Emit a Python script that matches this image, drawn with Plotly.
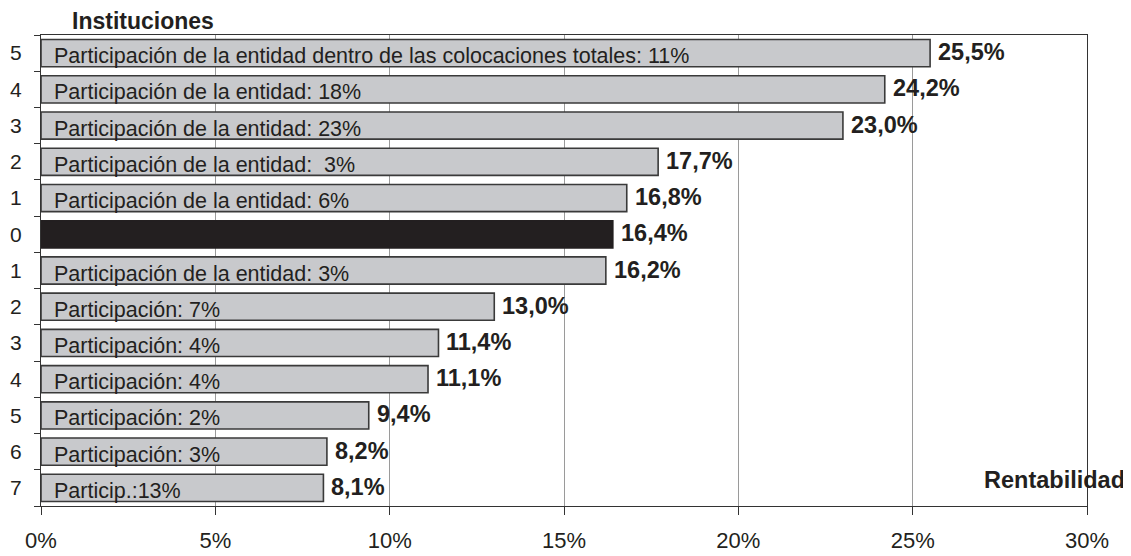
import plotly.graph_objects as go

# Data
inst_labels = ["5", "4", "3", "2", "1", "0", "1", "2", "3", "4", "5", "6", "7"]
rentabilidad = [25.5, 24.2, 23.0, 17.7, 16.8, 16.4, 16.2, 13.0, 11.4, 11.1, 9.4, 8.2, 8.1]
participacion_text = [
    "Participación de la entidad dentro de las colocaciones totales: 11%",
    "Participación de la entidad: 18%",
    "Participación de la entidad: 23%",
    "Participación de la entidad:  3%",
    "Participación de la entidad: 6%",
    "",
    "Participación de la entidad: 3%",
    "Participación: 7%",
    "Participación: 4%",
    "Participación: 4%",
    "Participación: 2%",
    "Participación: 3%",
    "Particip.:13%",
]
highlight_index = 5
x_ticks = [0, 5, 10, 15, 20, 25, 30]

FONT = "Arial, Liberation Sans, sans-serif"
TXT = "#231f20"
positions = list(range(len(rentabilidad)))

fill = ["#231f20" if i == highlight_index else "#c8c9cc" for i in positions]
line_col = ["#231f20" if i == highlight_index else "#3a3a3a" for i in positions]

# page is rendered with an 8px body margin
OFF = 8
W, H = 1131 - OFF, 556 - OFF
PL, PR, PT, PB = 41, 1087, 35, 506          # plot area in page pixels
ML, MR, MT, MB = PL - OFF, 1131 - PR, PT - OFF, 556 - PB
pw, ph = PR - PL, PB - PT

fig = go.Figure()
fig.add_trace(go.Bar(
    x=rentabilidad, y=positions, orientation="h",
    marker=dict(color=fill, line=dict(color=line_col, width=1.6)),
    width=0.75, hoverinfo="skip",
))

annotations = []
for i, (v, t) in enumerate(zip(rentabilidad, participacion_text)):
    if t:
        annotations.append(dict(
            x=0, y=i, xref="x", yref="y", text=t.replace("  ", "&nbsp; "),
            xanchor="left", yanchor="middle", xshift=11, yshift=-3,
            showarrow=False, font=dict(family=FONT, size=21.5, color=TXT)))
    annotations.append(dict(
        x=v, y=i, xref="x", yref="y",
        text="<b>" + f"{v:.1f}".replace(".", ",") + "%</b>",
        xanchor="left", yanchor="middle", xshift=6, yshift=1,
        showarrow=False, font=dict(family=FONT, size=23.5, color=TXT)))

annotations.append(dict(
    x=(71 - PL) / pw, y=(PB - 21) / ph, xref="paper", yref="paper",
    text="<b>Instituciones</b>", showarrow=False, xanchor="left", yanchor="middle",
    borderpad=0, font=dict(family=FONT, size=23, color=TXT)))
annotations.append(dict(
    x=(1127 - PL) / pw, y=(PB - 480) / ph, xref="paper", yref="paper",
    text="<b>Rentabilidad</b>", showarrow=False, xanchor="right", yanchor="middle",
    font=dict(family=FONT, size=23.5, color=TXT)))

fig.update_layout(
    width=W, height=H,
    margin=dict(l=ML, r=MR, t=MT, b=MB, autoexpand=False),
    plot_bgcolor="white", paper_bgcolor="white",
    showlegend=False,
    annotations=annotations,
)

fig.update_xaxes(
    range=[0, 30], tickvals=x_ticks, ticktext=[f"{t}%" for t in x_ticks],
    ticks="outside", ticklen=8, tickcolor="#333", tickwidth=1,
    showgrid=True, gridcolor="#9a9a9a", gridwidth=1,
    showline=True, linecolor="#333", linewidth=1, mirror=True,
    tickfont=dict(family=FONT, size=22, color=TXT), ticklabelstandoff=7,
    zeroline=False, fixedrange=True, automargin=False,
)
fig.update_yaxes(
    range=[12.5, -0.5], tickvals=positions, ticktext=inst_labels,
    ticks="", showgrid=False, zeroline=False,
    showline=True, linecolor="#333", linewidth=1, mirror=True,
    tickfont=dict(family=FONT, size=21, color=TXT), ticklabelstandoff=14,
    minor=dict(tick0=0.5, dtick=1, ticks="outside", ticklen=6, tickcolor="#333", showgrid=False),
    fixedrange=True, automargin=False,
)

fig.write_html("out.html")
